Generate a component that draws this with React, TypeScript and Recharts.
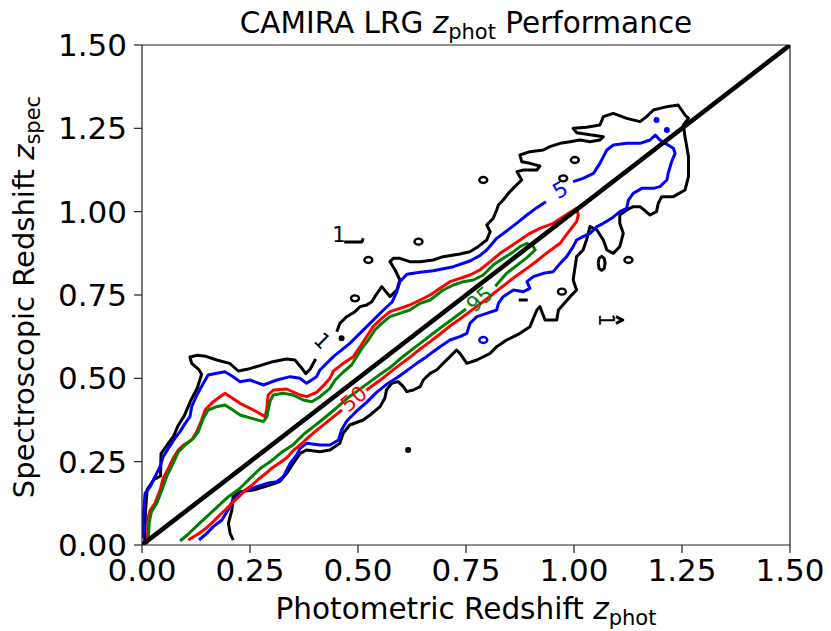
import React from 'react';
import { ComposedChart, Line, Scatter, XAxis, YAxis, ReferenceLine } from 'recharts';

const FONT = '"DejaVu Sans", sans-serif';

// shared tick positions for z_phot and z_spec
const zTicks = [0, 0.25, 0.5, 0.75, 1.0, 1.25, 1.5];

// one-to-one line
const oneToOne = [[0, 0], [1.5, 1.5]];

// contour paths as [z_phot, z_spec]; a level is split where its inline label sits
const level1Left = [
  [0.006, 0.0], [0.008, 0.1], [0.012, 0.166], [0.028, 0.197], [0.043, 0.207], [0.044, 0.274],
  [0.058, 0.3], [0.073, 0.326], [0.083, 0.357], [0.098, 0.388], [0.113, 0.434], [0.128, 0.471],
  [0.138, 0.512], [0.131, 0.527], [0.115, 0.545], [0.111, 0.564], [0.128, 0.569], [0.148, 0.566],
  [0.173, 0.555], [0.203, 0.545], [0.223, 0.522], [0.243, 0.527], [0.273, 0.538], [0.303, 0.55],
  [0.334, 0.558], [0.354, 0.555], [0.369, 0.532], [0.379, 0.514], [0.389, 0.527], [0.402, 0.558],
];
const level1Main = [
  [0.451, 0.64], [0.458, 0.665], [0.474, 0.685], [0.493, 0.7], [0.505, 0.715], [0.52, 0.72],
  [0.532, 0.73], [0.539, 0.745], [0.555, 0.775], [0.574, 0.745], [0.59, 0.765], [0.597, 0.795],
  [0.586, 0.825], [0.574, 0.85], [0.582, 0.86], [0.597, 0.86], [0.62, 0.85], [0.644, 0.85],
  [0.674, 0.855], [0.697, 0.865], [0.736, 0.873], [0.759, 0.88], [0.778, 0.895], [0.798, 0.915],
  [0.806, 0.94], [0.798, 0.96], [0.813, 0.98], [0.821, 1.005], [0.825, 1.02], [0.836, 1.035],
  [0.848, 1.055], [0.863, 1.075], [0.879, 1.095], [0.868, 1.12], [0.883, 1.125], [0.914, 1.125],
  [0.921, 1.137], [0.898, 1.145], [0.879, 1.15], [0.875, 1.17], [0.898, 1.18], [0.929, 1.185],
  [0.944, 1.195], [0.968, 1.205], [0.991, 1.21], [1.014, 1.215], [1.037, 1.21], [1.06, 1.215],
  [1.068, 1.225], [1.041, 1.23], [1.006, 1.237], [0.998, 1.25], [1.029, 1.253], [1.06, 1.26],
  [1.068, 1.285], [1.091, 1.295], [1.122, 1.28], [1.153, 1.27], [1.168, 1.285], [1.184, 1.305],
  [1.215, 1.315], [1.241, 1.32], [1.257, 1.29], [1.265, 1.28], [1.253, 1.26], [1.257, 1.225],
  [1.265, 1.165], [1.265, 1.105], [1.257, 1.065], [1.23, 1.045], [1.203, 1.045], [1.195, 1.025],
  [1.191, 1.0], [1.176, 0.99], [1.153, 1.015], [1.137, 1.015], [1.122, 1.005], [1.106, 0.99],
  [1.106, 0.965], [1.114, 0.935], [1.106, 0.895], [1.091, 0.875], [1.076, 0.885], [1.068, 0.915],
  [1.053, 0.945], [1.037, 0.955], [1.029, 0.915], [1.021, 0.885], [1.006, 0.865], [0.998, 0.795],
  [1.006, 0.765], [0.991, 0.745], [0.964, 0.705], [0.96, 0.675], [0.933, 0.675], [0.921, 0.715],
  [0.914, 0.705], [0.898, 0.655], [0.875, 0.635], [0.844, 0.615], [0.821, 0.595], [0.806, 0.575],
  [0.775, 0.555], [0.752, 0.545], [0.736, 0.575], [0.728, 0.585], [0.713, 0.565], [0.697, 0.545],
  [0.682, 0.525], [0.667, 0.515], [0.651, 0.495], [0.644, 0.475], [0.628, 0.465], [0.613, 0.46],
  [0.605, 0.475], [0.593, 0.49], [0.578, 0.485], [0.566, 0.465], [0.562, 0.44], [0.551, 0.415],
  [0.528, 0.39], [0.512, 0.375], [0.481, 0.36], [0.466, 0.336], [0.458, 0.305], [0.435, 0.285],
  [0.412, 0.28], [0.381, 0.285], [0.366, 0.275], [0.35, 0.245], [0.335, 0.215], [0.319, 0.19],
  [0.296, 0.18], [0.258, 0.165], [0.227, 0.16], [0.211, 0.145], [0.208, 0.105], [0.2, 0.065],
  [0.204, 0.035], [0.211, 0.015],
];
// short level-1 pieces beside the small labels, plus the larger island
const level1HookTop = [[0.468, 0.909], [0.509, 0.909], [0.512, 0.92]];
const level1HookRight = [[1.097, 0.685], [1.113, 0.675], [1.097, 0.665]];
const level1Dash = [[0.872, 0.735], [0.893, 0.735]];
const level1Loop = [
  [1.056, 0.845], [1.058, 0.86], [1.064, 0.866], [1.07, 0.86], [1.072, 0.845], [1.07, 0.83],
  [1.064, 0.824], [1.058, 0.83], [1.056, 0.845],
];

const level5Upper = [
  [0.003, 0.02], [0.003, 0.085], [0.007, 0.155], [0.019, 0.175], [0.03, 0.205], [0.042, 0.235],
  [0.049, 0.265], [0.061, 0.29], [0.076, 0.32], [0.088, 0.34], [0.1, 0.365], [0.111, 0.385],
  [0.115, 0.415], [0.127, 0.45], [0.142, 0.485], [0.153, 0.51], [0.173, 0.515], [0.192, 0.52],
  [0.211, 0.505], [0.227, 0.49], [0.25, 0.495], [0.281, 0.48], [0.312, 0.495], [0.343, 0.505],
  [0.366, 0.5], [0.381, 0.485], [0.404, 0.505], [0.412, 0.525], [0.443, 0.565], [0.481, 0.605],
  [0.52, 0.655], [0.559, 0.705], [0.579, 0.729], [0.59, 0.76], [0.597, 0.79], [0.613, 0.812],
  [0.644, 0.818], [0.674, 0.823], [0.721, 0.835], [0.759, 0.852], [0.782, 0.868], [0.798, 0.885],
  [0.821, 0.92], [0.844, 0.942], [0.867, 0.965], [0.891, 0.99], [0.914, 1.012], [0.935, 1.03],
];
const level5Main = [
  [0.998, 1.09], [1.021, 1.1], [1.045, 1.115], [1.06, 1.145], [1.076, 1.185], [1.091, 1.2],
  [1.122, 1.205], [1.153, 1.205], [1.176, 1.215], [1.188, 1.23], [1.199, 1.215], [1.211, 1.205],
  [1.23, 1.19], [1.234, 1.175], [1.226, 1.15], [1.218, 1.115], [1.215, 1.095], [1.199, 1.075],
  [1.184, 1.07], [1.157, 1.07], [1.137, 1.055], [1.126, 1.035], [1.122, 1.01], [1.106, 1.0],
  [1.087, 0.98], [1.068, 0.965], [1.053, 0.955], [1.037, 0.935], [1.021, 0.925], [1.006, 0.915],
  [0.998, 0.895], [0.983, 0.865], [0.968, 0.845], [0.952, 0.82], [0.929, 0.815], [0.906, 0.805],
  [0.891, 0.79], [0.898, 0.77], [0.883, 0.76], [0.86, 0.765], [0.836, 0.745], [0.825, 0.725],
  [0.821, 0.705], [0.798, 0.695], [0.775, 0.685], [0.759, 0.665], [0.752, 0.635], [0.736, 0.625],
  [0.713, 0.615], [0.69, 0.595], [0.674, 0.58], [0.659, 0.565], [0.636, 0.545], [0.613, 0.523],
  [0.59, 0.502], [0.566, 0.482], [0.543, 0.458], [0.52, 0.428], [0.497, 0.402], [0.474, 0.372],
  [0.462, 0.345], [0.455, 0.315], [0.435, 0.3], [0.412, 0.3], [0.381, 0.305], [0.366, 0.29],
  [0.358, 0.27], [0.343, 0.245], [0.327, 0.205], [0.312, 0.19], [0.289, 0.185], [0.266, 0.175],
  [0.242, 0.165], [0.227, 0.155], [0.211, 0.135], [0.199, 0.105], [0.185, 0.075], [0.165, 0.055],
  [0.15, 0.035], [0.132, 0.015],
];

const level50Upper = [
  [0.012, 0.005], [0.015, 0.085], [0.019, 0.105], [0.03, 0.125], [0.042, 0.165], [0.049, 0.2],
  [0.061, 0.23], [0.072, 0.26], [0.084, 0.285], [0.096, 0.3], [0.115, 0.315], [0.127, 0.34],
  [0.138, 0.375], [0.146, 0.405], [0.165, 0.43], [0.192, 0.455], [0.204, 0.445], [0.227, 0.425],
  [0.258, 0.405], [0.285, 0.385], [0.289, 0.41], [0.292, 0.45], [0.304, 0.465], [0.335, 0.468],
  [0.366, 0.45], [0.381, 0.445], [0.404, 0.458], [0.42, 0.478], [0.435, 0.5], [0.443, 0.522],
  [0.466, 0.545], [0.489, 0.565], [0.505, 0.595], [0.52, 0.625], [0.535, 0.655], [0.555, 0.68],
  [0.574, 0.7], [0.597, 0.71], [0.62, 0.72], [0.644, 0.735], [0.667, 0.75], [0.69, 0.77],
  [0.713, 0.79], [0.736, 0.8], [0.759, 0.81], [0.782, 0.825], [0.806, 0.85], [0.829, 0.875],
  [0.852, 0.895], [0.875, 0.915], [0.898, 0.935], [0.921, 0.95], [0.952, 0.965], [0.975, 0.985],
  [1.006, 1.01], [1.01, 0.99], [1.006, 0.97], [0.991, 0.945], [0.979, 0.925], [0.968, 0.905],
  [0.952, 0.89], [0.933, 0.872], [0.914, 0.852], [0.891, 0.83], [0.867, 0.808], [0.844, 0.785],
  [0.821, 0.762], [0.798, 0.738], [0.775, 0.716], [0.759, 0.7], [0.736, 0.678], [0.713, 0.657],
  [0.69, 0.633], [0.667, 0.61], [0.644, 0.588], [0.62, 0.563], [0.597, 0.541], [0.574, 0.518],
  [0.551, 0.494], [0.519, 0.464],
];
const level50Lower = [
  [0.463, 0.405], [0.45, 0.392], [0.43, 0.371], [0.412, 0.352], [0.395, 0.334], [0.381, 0.318],
  [0.366, 0.3], [0.35, 0.283], [0.335, 0.262], [0.319, 0.247], [0.3, 0.23], [0.285, 0.213],
  [0.27, 0.198], [0.255, 0.18], [0.24, 0.166], [0.225, 0.146], [0.21, 0.128], [0.195, 0.108],
  [0.18, 0.09], [0.165, 0.07], [0.15, 0.052], [0.13, 0.033], [0.107, 0.015],
];

const level95Upper = [
  [0.015, 0.025], [0.017, 0.07], [0.022, 0.1], [0.034, 0.125], [0.046, 0.165], [0.057, 0.205],
  [0.072, 0.245], [0.084, 0.279], [0.1, 0.3], [0.119, 0.32], [0.13, 0.339], [0.142, 0.38],
  [0.153, 0.405], [0.173, 0.415], [0.192, 0.42], [0.204, 0.41], [0.227, 0.39], [0.254, 0.38],
  [0.281, 0.37], [0.289, 0.385], [0.296, 0.43], [0.304, 0.45], [0.327, 0.455], [0.35, 0.45],
  [0.373, 0.435], [0.393, 0.43], [0.412, 0.445], [0.435, 0.47], [0.447, 0.495], [0.466, 0.519],
  [0.485, 0.54], [0.497, 0.565], [0.509, 0.59], [0.524, 0.615], [0.539, 0.645], [0.555, 0.665],
  [0.574, 0.685], [0.597, 0.695], [0.62, 0.705], [0.644, 0.725], [0.667, 0.735], [0.682, 0.75],
  [0.697, 0.765], [0.721, 0.78], [0.744, 0.79], [0.767, 0.795], [0.79, 0.81], [0.813, 0.84],
  [0.836, 0.86], [0.86, 0.88], [0.875, 0.895], [0.891, 0.905], [0.906, 0.895], [0.91, 0.885],
  [0.891, 0.862], [0.867, 0.838], [0.844, 0.815], [0.818, 0.776],
];
const level95Lower = [
  [0.75, 0.708], [0.725, 0.684], [0.7, 0.66], [0.675, 0.636], [0.65, 0.611], [0.625, 0.586],
  [0.6, 0.561], [0.575, 0.533], [0.55, 0.511], [0.525, 0.487], [0.5, 0.463], [0.475, 0.44],
  [0.45, 0.411], [0.425, 0.384], [0.4, 0.358], [0.375, 0.333], [0.35, 0.301], [0.325, 0.28],
  [0.3, 0.253], [0.275, 0.231], [0.25, 0.2], [0.225, 0.168], [0.2, 0.145], [0.175, 0.115],
  [0.15, 0.085], [0.125, 0.055], [0.105, 0.03], [0.088, 0.012],
];

// isolated level-1 and level-5 islands
const level1Rings = [
  [0.64, 0.91], [0.524, 0.855], [0.493, 0.74], [0.79, 1.095], [1.002, 1.155], [0.975, 1.1],
  [1.126, 0.855], [0.972, 0.76],
];
const level1Dots = [[0.462, 0.62], [0.616, 0.285]];
const level5Rings = [[0.79, 0.615]];
const level5Dots = [[1.191, 1.275], [1.215, 1.245]];

// inline contour labels: [z_phot, z_spec, text]
const labelsLevel1Slanted: [number, number, string][] = [[0.417, 0.612, '1']];
const labelsLevel1Upright: [number, number, string][] = [[0.456, 0.93, '1']];
const labelsLevel1Turned: [number, number, string][] = [[1.074, 0.675, '1']];
const labelsLevel5: [number, number, string][] = [[0.968, 1.065, '5']];
const labelsLevel50: [number, number, string][] = [[0.491, 0.438, '50']];
const labelsLevel95: [number, number, string][] = [[0.782, 0.737, '95']];

const toPts = (rows: number[][]) => rows.map(([x, y]) => ({ x, y }));
const toLabels = (rows: [number, number, string][]) => rows.map(([x, y, text]) => ({ x, y, text }));

const BLACK = '#000000';
const BLUE = '#0000ff';
const RED = '#ff0000';
const GREEN = '#008000';

const contourPaths: { rows: number[][]; color: string }[] = [
  { rows: level1Left, color: BLACK },
  { rows: level1Main, color: BLACK },
  { rows: level1HookTop, color: BLACK },
  { rows: level1HookRight, color: BLACK },
  { rows: level1Dash, color: BLACK },
  { rows: level1Loop, color: BLACK },
  { rows: level5Upper, color: BLUE },
  { rows: level5Main, color: BLUE },
  { rows: level50Upper, color: RED },
  { rows: level50Lower, color: RED },
  { rows: level95Upper, color: GREEN },
  { rows: level95Lower, color: GREEN },
];

const labelSets: { rows: [number, number, string][]; color: string; angle: number }[] = [
  { rows: labelsLevel1Slanted, color: BLACK, angle: 45 },
  { rows: labelsLevel1Upright, color: BLACK, angle: 0 },
  { rows: labelsLevel1Turned, color: BLACK, angle: 90 },
  { rows: labelsLevel5, color: BLUE, angle: -30 },
  { rows: labelsLevel50, color: RED, angle: -40 },
  { rows: labelsLevel95, color: GREEN, angle: -40 },
];

const ring = (color: string) => (props: any) => (
  <ellipse cx={props.cx} cy={props.cy} rx={4} ry={3} fill="none" stroke={color} strokeWidth={2.4} />
);
const dot = (color: string) => (props: any) => (
  <circle cx={props.cx} cy={props.cy} r={3} fill={color} />
);
const inlineLabel = (color: string, angle: number) => (props: any) => (
  <text
    x={props.cx}
    y={props.cy}
    transform={`rotate(${angle} ${props.cx} ${props.cy})`}
    textAnchor="middle"
    dominantBaseline="central"
    fontSize={21}
    fontFamily={FONT}
    fill={color}
  >
    {props.payload.text}
  </text>
);

const W = 831;
const H = 631;

export default function App() {
  return (
    <div style={{ position: 'absolute', left: 0, top: 0, width: W, height: H, background: '#fff' }}>
      <ComposedChart
        width={W}
        height={H}
        margin={{ top: 45, right: 41, bottom: 0, left: 0 }}
        style={{ fontFamily: FONT }}
      >
        <XAxis
          type="number"
          dataKey="x"
          domain={[0, 1.5]}
          ticks={zTicks}
          interval={0}
          allowDataOverflow
          height={86}
          tickSize={8}
          tickMargin={6}
          tickFormatter={(v: number) => v.toFixed(2)}
          tick={{ fontSize: 31, fill: '#000', fontFamily: FONT }}
          axisLine={{ stroke: '#222', strokeWidth: 1.2 }}
          tickLine={{ stroke: '#222', strokeWidth: 1.2 }}
        />
        <YAxis
          type="number"
          dataKey="y"
          domain={[0, 1.5]}
          ticks={zTicks}
          interval={0}
          allowDataOverflow
          width={142}
          tickSize={8}
          tickMargin={7}
          tickFormatter={(v: number) => v.toFixed(2)}
          tick={{ fontSize: 31, fill: '#000', fontFamily: FONT }}
          axisLine={{ stroke: '#222', strokeWidth: 1.2 }}
          tickLine={{ stroke: '#222', strokeWidth: 1.2 }}
        />
        <ReferenceLine y={1.5} stroke="#222" strokeWidth={1.2} />
        <ReferenceLine x={1.5} stroke="#222" strokeWidth={1.2} />

        {contourPaths.map((c, i) => (
          <Line
            key={`contour-${i}`}
            data={toPts(c.rows)}
            dataKey="y"
            type="linear"
            stroke={c.color}
            strokeWidth={3}
            strokeLinejoin="round"
            dot={false}
            activeDot={false}
            legendType="none"
            isAnimationActive={false}
          />
        ))}

        <Scatter data={toPts(level1Rings)} dataKey="y" shape={ring(BLACK)} isAnimationActive={false} />
        <Scatter data={toPts(level1Dots)} dataKey="y" shape={dot(BLACK)} isAnimationActive={false} />
        <Scatter data={toPts(level5Rings)} dataKey="y" shape={ring(BLUE)} isAnimationActive={false} />
        <Scatter data={toPts(level5Dots)} dataKey="y" shape={dot(BLUE)} isAnimationActive={false} />

        {labelSets.map((s, i) => (
          <Scatter
            key={`label-${i}`}
            data={toLabels(s.rows)}
            dataKey="y"
            shape={inlineLabel(s.color, s.angle)}
            isAnimationActive={false}
          />
        ))}

        <Line
          data={toPts(oneToOne)}
          dataKey="y"
          type="linear"
          stroke={BLACK}
          strokeWidth={4.6}
          dot={false}
          activeDot={false}
          legendType="none"
          isAnimationActive={false}
        />
      </ComposedChart>

      <svg
        width={W}
        height={H}
        style={{ position: 'absolute', left: 0, top: 0, pointerEvents: 'none' }}
        fontFamily={FONT}
      >
        <text x={466} y={33} textAnchor="middle" fontSize={29.5} fill="#000">
          CAMIRA LRG <tspan fontStyle="italic">z</tspan>
          <tspan fontSize={21} dy={6}>phot</tspan>
          <tspan dy={-6}> Performance</tspan>
        </text>
        <text x={466} y={619} textAnchor="middle" fontSize={29.5} fill="#000">
          Photometric Redshift <tspan fontStyle="italic">z</tspan>
          <tspan fontSize={21} dy={6}>phot</tspan>
        </text>
        <text transform="translate(34 297) rotate(-90)" textAnchor="middle" fontSize={29} fill="#000">
          Spectroscopic Redshift <tspan fontStyle="italic">z</tspan>
          <tspan fontSize={21} dy={6}>spec</tspan>
        </text>
      </svg>
    </div>
  );
}
